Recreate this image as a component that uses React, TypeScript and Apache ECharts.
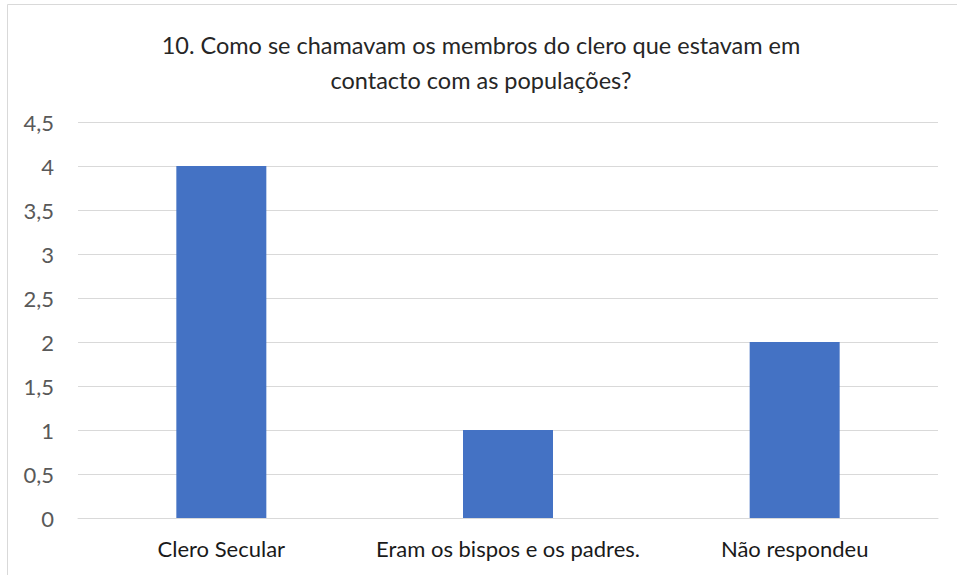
import React, { useEffect, useRef } from "react";
import * as echarts from "echarts";

const titleLines = [
  "10. Como se chamavam os membros do clero que estavam em",
  "contacto com as populações?",
];
const categories = ["Clero Secular", "Eram os bispos e os padres.", "Não respondeu"];
const values = [4, 1, 2];
const yMin = 0;
const yMax = 4.5;
const yStep = 0.5;

export default function App() {
  const ref = useRef<HTMLDivElement>(null);
  useEffect(() => {
    if (!ref.current) return;
    const chart = echarts.init(ref.current, null, { renderer: "svg" });
    const font = "Lato, 'Open Sans', sans-serif";
    chart.setOption({
      animation: false,
      backgroundColor: "#ffffff",
      textStyle: { fontFamily: font },
      graphic: [
        {
          type: "rect",
          shape: { x: 7.5, y: 4.5, width: 1000, height: 1000 },
          style: { fill: "none", stroke: "#D9D9D9", lineWidth: 1 },
          silent: true,
        },
        ...titleLines.map((t, i) => ({
          type: "text",
          x: 481,
          y: 45 + i * 35,
          style: {
            text: t,
            fontFamily: font,
            fontSize: 23.5,
            fill: "#262626",
            align: "center",
            verticalAlign: "middle",
          },
          silent: true,
        })),
      ],
      grid: { left: 78, right: 19, top: 122, bottom: 57 },
      xAxis: {
        type: "category",
        data: categories,
        axisLine: { show: true, lineStyle: { color: "#D9D9D9", width: 1 } },
        axisTick: { show: false },
        axisLabel: {
          color: "#1a1a1a",
          fontSize: 22,
          fontFamily: font,
          margin: 19,
          interval: 0,
          hideOverlap: false,
        },
      },
      yAxis: {
        type: "value",
        min: yMin,
        max: yMax,
        interval: yStep,
        axisLine: { show: false },
        axisTick: { show: false },
        splitLine: { lineStyle: { color: "#D9D9D9", width: 1 } },
        axisLabel: {
          color: "#595959",
          fontSize: 22,
          fontFamily: font,
          margin: 24,
          formatter: (v: number) => String(v).replace(".", ","),
        },
      },
      series: [
        {
          type: "bar",
          data: values,
          barWidth: 90,
          itemStyle: { color: "#4472C4" },
        },
      ],
    });
    return () => chart.dispose();
  }, []);
  return (
    <div
      ref={ref}
      style={{ position: "fixed", left: 0, top: 0, width: 957, height: 575 }}
    />
  );
}
